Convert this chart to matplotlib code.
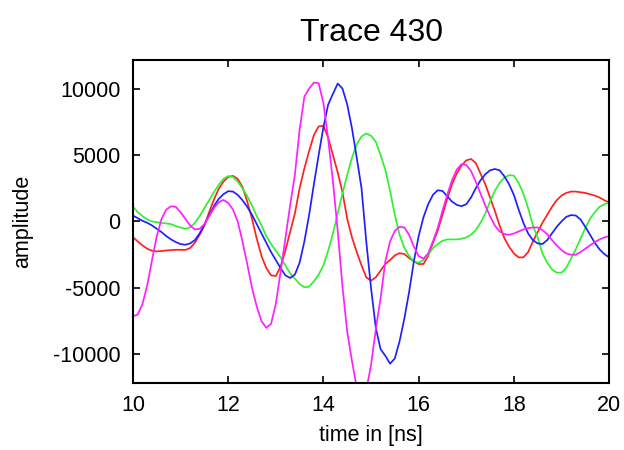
import numpy as np
import matplotlib
matplotlib.use("Agg")
import matplotlib.pyplot as plt

plt.rcParams['font.family'] = ['Liberation Sans', 'DejaVu Sans']
plt.rcParams['axes.unicode_minus'] = False

time_ns = [round(10 + 0.1 * i, 1) for i in range(101)]

red = [-1180, -1500, -1800, -2050, -2200, -2250, -2220, -2180, -2150, -2130,
       -2130, -2140, -2000, -1600, -1000, -300, 700, 1650, 2450, 3000,
       3350, 3430, 3200, 2600, 1500, 200, -1300, -2600, -3500, -4050,
       -4100, -3400, -2200, -800, 600, 2500, 4000, 5300, 6500, 7150,
       7200, 6300, 5000, 3700, 2200, 200, -1200, -2300, -3300, -4200,
       -4450, -4200, -3700, -3200, -2900, -2550, -2380, -2450, -2750, -3000,
       -3200, -3200, -2600, -1600, -700, 500, 1700, 2800, 3600, 4200,
       4600, 4700, 4400, 3600, 2800, 1800, 800, -300, -1250, -1900,
       -2400, -2700, -2700, -2300, -1500, -800, -100, 500, 1100, 1600,
       1950, 2150, 2250, 2250, 2200, 2150, 2050, 1950, 1800, 1600,
       1430]

green = [1130, 700, 400, 150, 0, -50, -100, -150, -200, -350,
         -450, -550, -450, -100, 400, 1000, 1600, 2200, 2750, 3200,
         3420, 3350, 3000, 2500, 1900, 1200, 400, -300, -1100, -1700,
         -2200, -2700, -3300, -3900, -4300, -4700, -4950, -4900, -4500, -4000,
         -3300, -2200, -900, 600, 2100, 3500, 4800, 5800, 6400, 6620,
         6450, 6000, 5000, 3900, 2300, 500, -1000, -2000, -2600, -3000,
         -3100, -2900, -2500, -2000, -1700, -1450, -1350, -1350, -1350, -1300,
         -1200, -1000, -650, -100, 600, 1500, 2300, 2900, 3300, 3480,
         3450, 2900, 2100, 1000, -300, -1200, -2400, -3100, -3600, -3850,
         -3850, -3500, -2800, -2100, -1300, -500, 200, 700, 1100, 1300,
         1430]

blue = [450, 250, 50, -100, -300, -550, -800, -1100, -1350, -1550,
        -1700, -1750, -1650, -1400, -900, -250, 450, 1150, 1700, 2050,
        2280, 2250, 2000, 1600, 1100, 500, -200, -900, -1600, -2300,
        -2900, -3500, -4050, -4250, -4000, -3100, -1500, 500, 2800, 5000,
        7100, 8800, 9600, 10380, 10000, 8800, 7000, 4800, 2500, -1500,
        -5000, -8000, -9600, -10100, -10700, -10300, -9000, -7300, -5300, -3000,
        -1100, 300, 1300, 2000, 2350, 2300, 1900, 1500, 1250, 1150,
        1300, 1800, 2500, 3100, 3550, 3850, 3950, 3850, 3400, 2800,
        2000, 900, -100, -900, -1400, -1650, -1700, -1400, -900, -400,
        0, 350, 480, 450, 150, -400, -1000, -1600, -2100, -2450,
        -2700]

magenta = [-7130, -7000, -6200, -4800, -2900, -1100, 200, 900, 1150, 1100,
           700, 200, -300, -600, -550, -200, 400, 1000, 1450, 1620,
           1400, 900, 0, -1500, -3200, -5000, -6400, -7500, -8000, -7700,
           -6200, -3800, -1300, 1200, 3500, 6900, 9400, 10000, 10450, 10400,
           8900, 6200, 3000, -700, -4900, -8300, -10500, -12500, -13300, -12700,
           -10800, -8100, -5800, -3000, -1500, -700, -400, -450, -1000, -1900,
           -2600, -2800, -2400, -1500, -500, 800, 2000, 3100, 3900, 4300,
           4250, 3800, 3000, 2100, 1200, 400, -300, -750, -950, -1000,
           -900, -750, -600, -500, -450, -450, -650, -950, -1400, -1800,
           -2150, -2400, -2500, -2500, -2300, -2050, -1800, -1550, -1350, -1200,
           -1100]

series = [("red", red, "#ff2020"), ("green", green, "#30f030"),
          ("blue", blue, "#2020ff"), ("magenta", magenta, "#ff20ff")]

x_ticks = [10, 12, 14, 16, 18, 20]
y_ticks = [-10000, -5000, 0, 5000, 10000]

fig = plt.figure(figsize=(6.24, 4.5), dpi=100)
ax = fig.add_axes([0.2131, 0.1489, 0.763, 0.7178])

for name, vals, col in series:
    ax.plot(time_ns, vals, color=col, linewidth=1.25)

ax.set_xlim(10, 20)
ax.set_ylim(-12150, 12150)
ax.set_xticks(x_ticks)
ax.set_yticks(y_ticks)
ax.tick_params(direction='in', top=True, right=True, length=5, width=1.2,
               labelsize=15.5, pad=9)
for s in ax.spines.values():
    s.set_linewidth(1.5)

ax.set_title("Trace 430", fontsize=23, pad=14)
ax.set_xlabel("time in [ns]", fontsize=15.5, labelpad=6)
ax.set_ylabel("amplitude", fontsize=15.5, labelpad=14)

fig.savefig("out.png", dpi=100)
